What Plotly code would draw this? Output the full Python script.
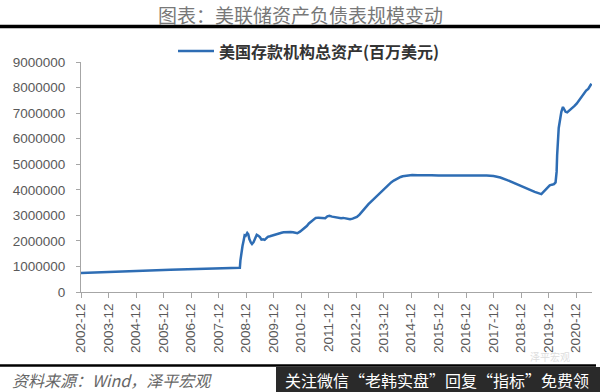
import plotly.graph_objects as go

dates = [
    "2002-12-01", "2003-03-01", "2003-06-01", "2003-09-01", "2003-12-01",
    "2004-03-01", "2004-06-01", "2004-09-01", "2004-12-01",
    "2005-03-01", "2005-06-01", "2005-09-01", "2005-12-01",
    "2006-03-01", "2006-06-01", "2006-09-01", "2006-12-01",
    "2007-03-01", "2007-06-01", "2007-09-01", "2007-12-01",
    "2008-03-01", "2008-06-01", "2008-08-01", "2008-09-10", "2008-09-17",
    "2008-09-24", "2008-10-01", "2008-10-15", "2008-10-29", "2008-11-12",
    "2008-11-26", "2008-12-17", "2008-12-31", "2009-01-14", "2009-02-04",
    "2009-02-18", "2009-03-11", "2009-04-01", "2009-04-22", "2009-05-13",
    "2009-06-03", "2009-06-24", "2009-07-15", "2009-08-05", "2009-08-26",
    "2009-09-16", "2009-10-14", "2009-11-11", "2009-12-16",
    "2010-01-13", "2010-02-17", "2010-03-17", "2010-04-14", "2010-05-19",
    "2010-06-16", "2010-07-14", "2010-08-18", "2010-09-15", "2010-10-13",
    "2010-11-17", "2010-12-15",
    "2011-01-19", "2011-02-16", "2011-03-16", "2011-04-13", "2011-05-18",
    "2011-06-15", "2011-07-20", "2011-08-17", "2011-09-14", "2011-10-19",
    "2011-11-16", "2011-12-14",
    "2012-01-18", "2012-02-15", "2012-03-14", "2012-04-18", "2012-05-16",
    "2012-06-13", "2012-07-18", "2012-08-15", "2012-09-12", "2012-10-17",
    "2012-11-14", "2012-12-12",
    "2013-01-16", "2013-02-13", "2013-03-13", "2013-04-17", "2013-05-15",
    "2013-06-12", "2013-07-17", "2013-08-14", "2013-09-11", "2013-10-16",
    "2013-11-13", "2013-12-11",
    "2014-01-15", "2014-02-12", "2014-03-12", "2014-04-16", "2014-05-14",
    "2014-06-11", "2014-07-16", "2014-08-13", "2014-09-17", "2014-10-15",
    "2014-11-12", "2014-12-17",
    "2015-03-01", "2015-06-01", "2015-09-01", "2015-12-01",
    "2016-03-01", "2016-06-01", "2016-09-01", "2016-12-01",
    "2017-03-01", "2017-06-01", "2017-09-01", "2017-12-01",
    "2018-03-01", "2018-06-01", "2018-09-01", "2018-12-01",
    "2019-03-01", "2019-06-01", "2019-08-28", "2019-09-25", "2019-10-23",
    "2019-11-20", "2019-12-18",
    "2020-01-15", "2020-02-12", "2020-03-04", "2020-03-18", "2020-03-25",
    "2020-04-01", "2020-04-15", "2020-05-06", "2020-05-20", "2020-06-10",
    "2020-06-24", "2020-07-15", "2020-08-05", "2020-08-26", "2020-09-16",
    "2020-10-14", "2020-11-11", "2020-12-09", "2020-12-30",
    "2021-01-20", "2021-02-17", "2021-03-17", "2021-04-14", "2021-05-12",
    "2021-06-09", "2021-06-23",
]

total_assets = [
    740000, 745000, 755000, 770000, 780000,
    790000, 800000, 815000, 830000,
    835000, 845000, 860000, 865000,
    870000, 880000, 885000, 895000,
    900000, 910000, 915000, 925000,
    930000, 935000, 940000, 950000, 1230000,
    1400000, 1530000, 1800000, 2000000, 2220000,
    2200000, 2310000, 2260000, 2070000, 1930000,
    1880000, 1950000, 2100000, 2240000, 2200000,
    2150000, 2050000, 2060000, 2040000, 2120000,
    2160000, 2180000, 2210000, 2250000,
    2260000, 2290000, 2320000, 2340000, 2350000,
    2360000, 2350000, 2340000, 2320000, 2300000,
    2360000, 2430000,
    2490000, 2580000, 2680000, 2760000, 2840000,
    2900000, 2910000, 2900000, 2890000, 2890000,
    2960000, 2980000,
    2950000, 2930000, 2910000, 2900000, 2890000,
    2900000, 2870000, 2860000, 2850000, 2870000,
    2900000, 2940000,
    3030000, 3130000, 3250000, 3340000, 3440000,
    3520000, 3620000, 3710000, 3780000, 3890000,
    3980000, 4070000,
    4150000, 4230000, 4290000, 4360000, 4410000,
    4460000, 4500000, 4530000, 4550000, 4570000,
    4580000, 4580000,
    4570000, 4580000, 4570000, 4560000,
    4560000, 4570000, 4560000, 4550000,
    4560000, 4560000, 4560000, 4540000,
    4480000, 4380000, 4260000, 4140000,
    4020000, 3920000, 3830000, 3920000, 4010000,
    4110000, 4170000,
    4200000, 4220000, 4290000, 4700000, 5350000,
    5870000, 6420000, 6800000, 7050000, 7240000,
    7150000, 7050000, 7030000, 7080000, 7150000,
    7230000, 7280000, 7370000, 7460000,
    7530000, 7660000, 7760000, 7880000, 7950000,
    8060000, 8150000,
]

tick_dates = ["%d-12-01" % y for y in range(2002, 2021)]
tick_labels = ["%d-12" % y for y in range(2002, 2021)]
y_ticks = [0, 1000000, 2000000, 3000000, 4000000, 5000000, 6000000, 7000000, 8000000, 9000000]

series_name = "美国存款机构总资产(百万美元)"
chart_title = "图表：美联储资产负债表规模变动"
source_text = "资料来源：Wind，泽平宏观"
banner_text = "关注微信“老韩实盘”回复“指标”免费领"

W, H = 600, 392
L, R, T, B = 81, 8, 62, 100
PW, PH = W - L - R, H - T - B
LINE_COLOR = "#2E6DB4"


def px(x):
    return (x - L) / PW


def py(y):
    return (H - B - y) / PH


CJK = "Noto Sans CJK SC"
TICKFONT = dict(family="Liberation Sans, Arial", size=13.5, color="#595959")

fig = go.Figure()
fig.add_trace(go.Scatter(
    x=dates, y=total_assets, mode="lines", name=series_name,
    line=dict(color=LINE_COLOR, width=2.5), showlegend=False,
))

fig.update_layout(
    width=W, height=H,
    margin=dict(l=L, r=R, t=T, b=B, autoexpand=False),
    paper_bgcolor="white", plot_bgcolor="white",
    showlegend=False,
    xaxis=dict(
        type="date", range=["2002-12-01", "2021-07-01"],
        tickmode="array", tickvals=tick_dates, ticktext=tick_labels,
        tickangle=-90, ticks="outside", ticklen=5, tickcolor="#A6A6A6",
        showline=True, linecolor="#A6A6A6", linewidth=1,
        showgrid=False, zeroline=False, tickfont=TICKFONT,
    ),
    yaxis=dict(
        range=[0, 9000000], tickmode="array", tickvals=y_ticks,
        ticktext=[str(v) for v in y_ticks],
        ticks="outside", ticklen=4, tickcolor="#A6A6A6", ticklabelstandoff=8,
        showline=True, linecolor="#A6A6A6", linewidth=1,
        showgrid=False, zeroline=False, tickfont=TICKFONT,
    ),
    shapes=[
        dict(type="line", xref="paper", yref="paper", x0=px(0), x1=px(600),
             y0=py(26.5), y1=py(26.5), line=dict(color="black", width=3.5)),
        dict(type="line", xref="paper", yref="paper", x0=px(178), x1=px(214),
             y0=py(51), y1=py(51), line=dict(color=LINE_COLOR, width=2.6)),
        dict(type="line", xref="paper", yref="paper", x0=px(0), x1=px(596),
             y0=py(365.5), y1=py(365.5), line=dict(color="black", width=2.5)),
        dict(type="rect", xref="paper", yref="paper", x0=px(276), x1=px(600),
             y0=py(367), y1=py(392), fillcolor="#2A2A2A", line=dict(width=0)),
    ],
    annotations=[
        dict(text=chart_title, xref="paper", yref="paper", x=px(300), y=py(14),
             xanchor="center", yanchor="middle", showarrow=False,
             font=dict(family=CJK, size=19, color="#787878")),
        dict(text="<b>" + series_name + "</b>", xref="paper", yref="paper",
             x=px(217), y=py(51), xanchor="left", yanchor="middle", showarrow=False,
             font=dict(family=CJK, size=16, color="#333333")),
        dict(text="<i>" + source_text + "</i>", xref="paper", yref="paper",
             x=px(10), y=py(380), xanchor="left", yanchor="middle", showarrow=False,
             font=dict(family=CJK, size=16, color="#666666")),
        dict(text="泽平宏观", xref="paper", yref="paper", x=px(550), y=py(356),
             xanchor="center", yanchor="middle", showarrow=False,
             font=dict(family=CJK, size=10, color="#DDDDDD")),
        dict(text=banner_text, xref="paper", yref="paper", x=px(283), y=py(380),
             xanchor="left", yanchor="middle", showarrow=False,
             font=dict(family=CJK, size=16, color="white")),
    ],
)

fig.write_html("out.html")
